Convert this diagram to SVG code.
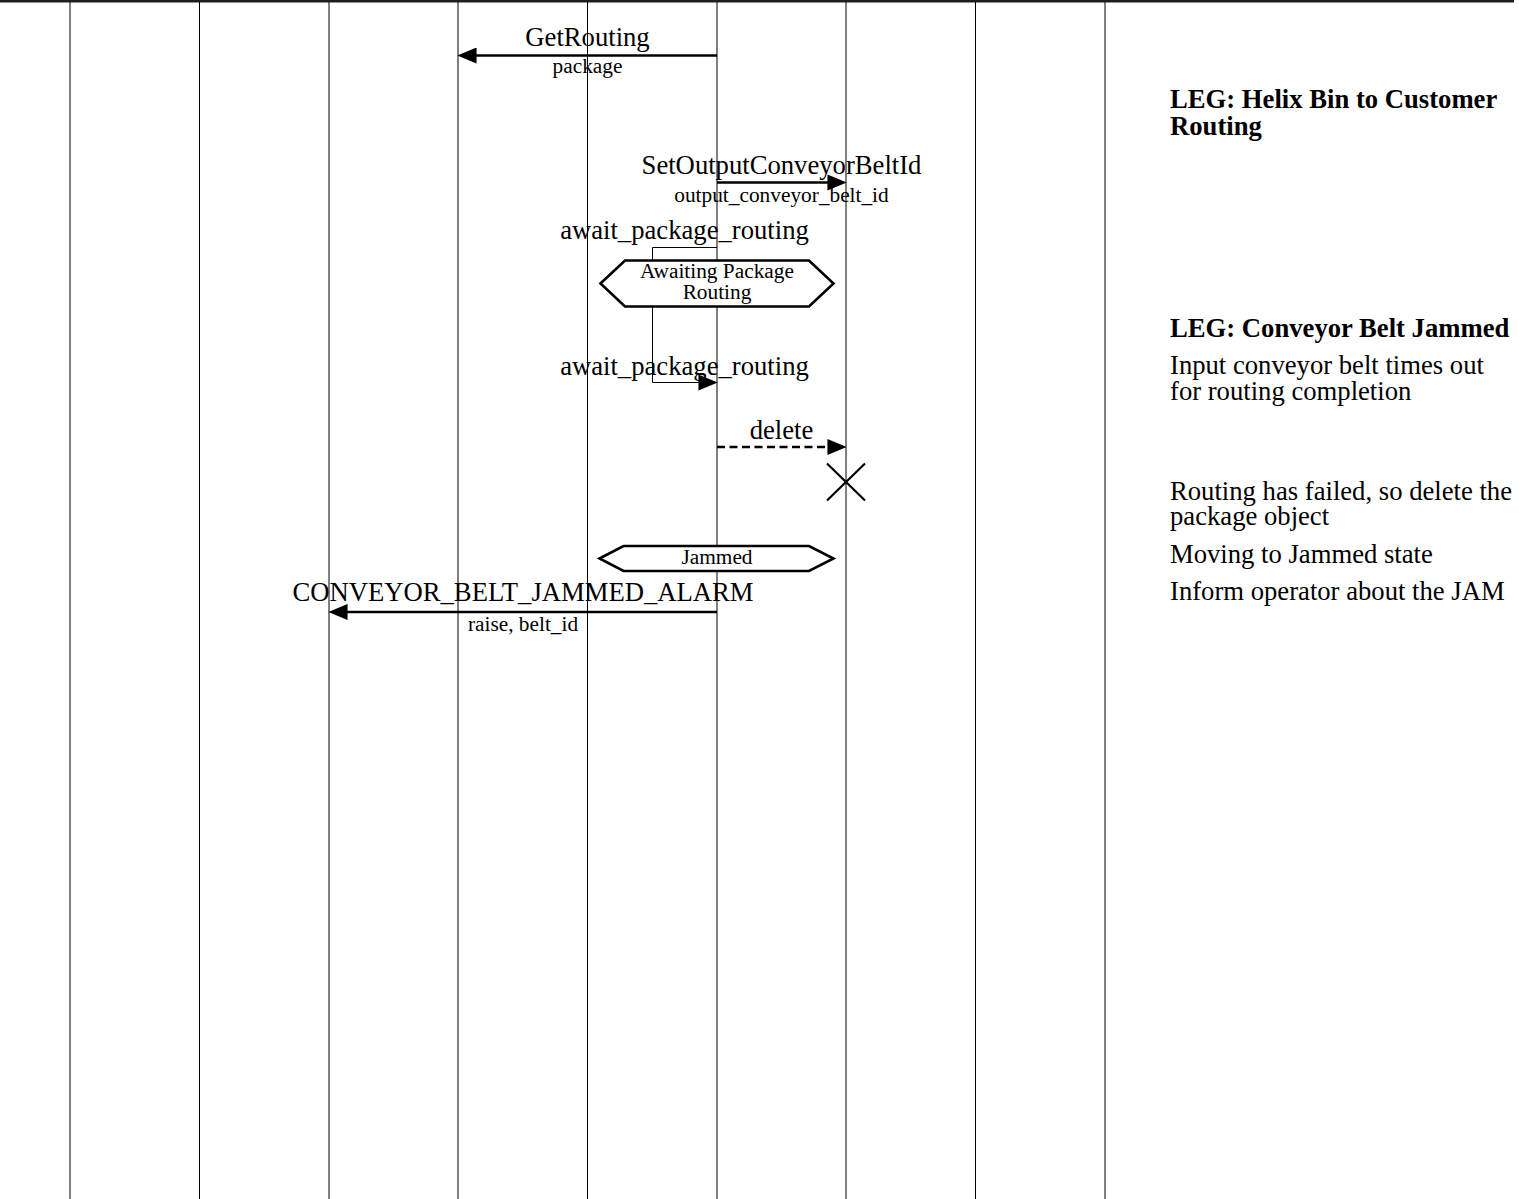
<svg xmlns="http://www.w3.org/2000/svg" width="1519" height="1199" viewBox="0 0 1519 1199">
<style>
  .life { stroke: #000; stroke-width: 1; fill: none; }
  .msg { stroke: #000; stroke-width: 2.6; fill: none; }
  .dash { stroke-dasharray: 8 4.5; }
  .thin { stroke: #000; stroke-width: 1; fill: none; }
  .cross { stroke: #000; stroke-width: 2.2; fill: none; }
  .state { fill: #fff; stroke: #000; stroke-width: 2.6; stroke-linejoin: miter; }
  .big { font-family: "Liberation Serif", "Times New Roman", serif; font-size: 26.67px; fill: #000; }
  .small { font-family: "Liberation Serif", "Times New Roman", serif; font-size: 21.33px; fill: #000; }
  .mid { text-anchor: middle; }
  .bold { font-weight: bold; }
</style>
<defs>
  <marker id="arrow" markerUnits="userSpaceOnUse" markerWidth="20" markerHeight="16" viewBox="0 0 18 15" refX="8" refY="7.5" orient="auto">
    <path d="M0,0 L18,7.5 L0,15 Z" fill="#000"/>
  </marker>
</defs>
<rect width="1519" height="1199" fill="#fff"/>
<line x1="0" y1="1.2" x2="1514" y2="1.2" stroke="#1e1e1e" stroke-width="2.6"/>

<g id="lifelines">
  <line id="lifeline-1" class="life" x1="70" y1="2" x2="70" y2="1199"/>
  <line id="lifeline-2" class="life" x1="199.5" y1="2" x2="199.5" y2="1199"/>
  <line id="lifeline-3" class="life" x1="329" y1="2" x2="329" y2="1199"/>
  <line id="lifeline-4" class="life" x1="458" y1="2" x2="458" y2="1199"/>
  <line id="lifeline-5" class="life" x1="587.5" y1="2" x2="587.5" y2="1199"/>
  <line id="lifeline-6" class="life" x1="717" y1="2" x2="717" y2="1199"/>
  <line id="lifeline-7" class="life" x1="846" y1="2" x2="846" y2="1199"/>
  <line id="lifeline-8" class="life" x1="975.5" y1="2" x2="975.5" y2="1199"/>
  <line id="lifeline-9" class="life" x1="1105" y1="2" x2="1105" y2="1199"/>
</g>

<g id="connectors">
  <g id="msg-getrouting">
    <line class="msg" x1="717" y1="55.5" x2="468" y2="55.5" marker-end="url(#arrow)"/>
    <text class="big mid" x="587.5" y="46">GetRouting</text>
    <text class="small mid" x="587.5" y="73">package</text>
  </g>
  <g id="msg-setoutput">
    <line class="msg" x1="717" y1="182.5" x2="836" y2="182.5" marker-end="url(#arrow)"/>
    <text class="big mid" x="781.5" y="174">SetOutputConveyorBeltId</text>
    <text class="small mid" x="781.5" y="202">output_conveyor_belt_id</text>
  </g>
  <g id="msg-await">
    <polyline class="thin" points="717,247.5 652.5,247.5 652.5,382.5 707,382.5" marker-end="url(#arrow)"/>
    <text class="big mid" x="684.5" y="239">await_package_routing</text>
    <text class="big mid" x="684.5" y="375">await_package_routing</text>
  </g>
  <g id="msg-delete">
    <line class="msg dash" x1="717" y1="447" x2="836" y2="447" marker-end="url(#arrow)"/>
    <text class="big mid" x="781.5" y="438.5">delete</text>
  </g>
  <g id="msg-alarm">
    <line class="msg" x1="717" y1="612" x2="339" y2="612" marker-end="url(#arrow)"/>
    <text class="big mid" x="523" y="601">CONVEYOR_BELT_JAMMED_ALARM</text>
    <text class="small mid" x="523" y="631">raise, belt_id</text>
  </g>
</g>

<g id="state-awaiting">
  <polygon class="state" points="600.5,283.5 625,260.5 809,260.5 833.5,283.5 809,306.5 625,306.5"/>
  <text class="small mid" x="717" y="278">Awaiting Package</text>
  <text class="small mid" x="717" y="299">Routing</text>
</g>

<g id="destroy-package">
  <line class="cross" x1="827" y1="463.5" x2="865" y2="500.5"/>
  <line class="cross" x1="865" y1="463.5" x2="827" y2="500.5"/>
</g>

<g id="state-jammed">
  <polygon class="state" points="599.5,558.5 623.5,546 809,546 833.5,558.5 809,571 623.5,571"/>
  <text class="small mid" x="717" y="563.5">Jammed</text>
</g>

<g id="notes">
  <g id="note-leg1">
    <text class="big bold" x="1170" y="108">LEG: Helix Bin to Customer</text>
    <text class="big bold" x="1170" y="135">Routing</text>
  </g>
  <g id="note-leg2">
    <text class="big bold" x="1170" y="337">LEG: Conveyor Belt Jammed</text>
    <text class="big" x="1170" y="374">Input conveyor belt times out</text>
    <text class="big" x="1170" y="400">for routing completion</text>
  </g>
  <g id="note-delete">
    <text class="big" x="1170" y="500">Routing has failed, so delete the</text>
    <text class="big" x="1170" y="525">package object</text>
  </g>
  <g id="note-jammed">
    <text class="big" x="1170" y="563">Moving to Jammed state</text>
  </g>
  <g id="note-alarm">
    <text class="big" x="1170" y="600">Inform operator about the JAM</text>
  </g>
</g>
</svg>
